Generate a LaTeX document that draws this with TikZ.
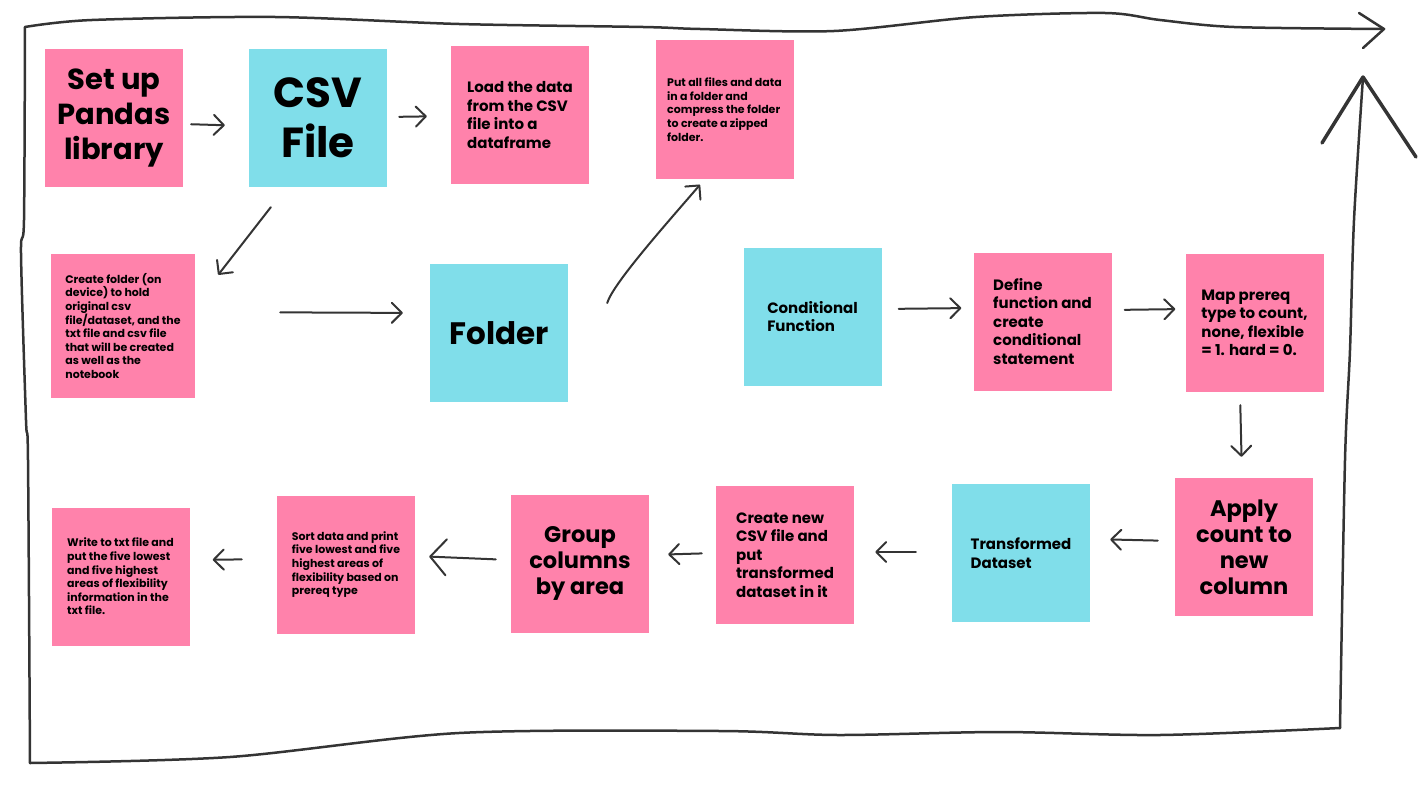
\documentclass[tikz,border=0pt]{standalone}
\usepackage{fontspec}
\setmainfont{Poppins}
\usetikzlibrary{arrows.meta}
\definecolor{notepink}{RGB}{255,130,171}
\definecolor{notecyan}{RGB}{128,222,234}
\definecolor{pencil}{RGB}{52,52,52}
\pgfkeys{tikz/note/.style={rectangle, inner sep=0pt,
                           minimum width=138pt, minimum height=138pt}}
\pgfkeys{tikz/pinknote/.style={note, fill=notepink}}
\pgfkeys{tikz/cyannote/.style={note, fill=notecyan}}
\pgfkeys{tikz/titletext/.style={align=center, font=\bfseries\fontsize{42}{50}\selectfont}}
\pgfkeys{tikz/foldertext/.style={align=center, font=\bfseries\fontsize{31}{36}\selectfont}}
\pgfkeys{tikz/bigtext/.style={align=center, font=\bfseries\fontsize{29}{35}\selectfont}}
\pgfkeys{tikz/midtext/.style={align=center, font=\bfseries\fontsize{22.5}{26}\selectfont}}
\pgfkeys{tikz/plaintext/.style={align=left, font=\bfseries\fontsize{15}{18.5}\selectfont}}
\pgfkeys{tikz/smalltext/.style={align=left, font=\bfseries\fontsize{11}{13.6}\selectfont}}
\pgfkeys{tikz/pen/.style={draw=pencil, line width=2pt, line cap=round, line join=round}}
\pgfkeys{tikz/frame/.style={draw=pencil, line width=2.5pt, line cap=round, line join=round}}
\pgfkeys{tikz/flow/.style={pen, -{Straight Barb[length=10pt,width=20pt,round]}}}
\pgfkeys{tikz/bigflow/.style={pen, -{Straight Barb[length=16pt,width=36pt,round]}}}

\begin{document}
\begin{tikzpicture}[x=1pt,y=-1pt]
            \useasboundingbox (0,0) rectangle (1422,800);

            \draw[frame] plot[smooth, tension=0.5] coordinates {(25,27) (92,20) (275,17) (459,24) (643,27) (700,29) (834,31) (976,17) (1105,13) (1160,20) (1234,27) (1384,29)};
            \draw[frame] (1359,13) -- (1384,29) -- (1363,48);
            \draw[frame] plot[smooth, tension=0.5] coordinates {(25,27) (24,220) (21,253) (26,420) (28,460) (30,763)};
            \draw[frame] plot[smooth, tension=0.5] coordinates {(30,763) (230,757) (459,733) (720,731) (838,735) (1000,732) (1160,735) (1340,728)};
            \draw[frame] plot[smooth, tension=0.5] coordinates {(1340,728) (1345,460) (1350,350) (1354,220) (1363,77)};
            \draw[frame, line width=3.5pt] (1322,143) -- (1363,77) -- (1416,157);

            \node[pinknote, bigtext] (setup) at (114,118) {Set up\\Pandas\\library};
            \node[cyannote, titletext] (csv) at (318,118) {CSV\\File};
            \node[pinknote, plaintext] (load) at (520,115) {Load the data\\from the CSV\\file into a\\dataframe};
            \node[pinknote, smalltext] (zip) at (724.5,109.5) {Put all files and data\\in a folder and\\compress the folder\\to create a zipped\\folder.};

            \node[pinknote, smalltext, minimum width=144pt, minimum height=144pt] (mkdir) at (123,326) {Create folder (on\\device) to hold\\original csv\\file/dataset, and the\\txt file and csv file\\that will be created\\as well as the\\notebook};
            \node[cyannote, foldertext] (folder) at (499,333) {Folder};

            \node[cyannote, plaintext] (cond) at (812.5,316.5) {Conditional\\Function};
            \node[pinknote, plaintext] (define) at (1042.5,321.5) {Define\\function and\\create\\conditional\\statement};
            \node[pinknote, plaintext] (map) at (1254.5,323) {Map prereq\\type to count,\\none, flexible\\= 1. hard = 0.};

            \node[pinknote, midtext] (apply) at (1244,547) {Apply\\count to\\new\\column};
            \node[cyannote, plaintext] (trans) at (1021,553) {Transformed\\Dataset};
            \node[pinknote, plaintext] (newcsv) at (785,555) {Create new\\CSV file and\\put\\transformed\\dataset in it};
            \node[pinknote, midtext] (group) at (580,563.5) {Group\\columns\\by area};
            \node[pinknote, smalltext] (sort) at (346,564.5) {Sort data and print\\five lowest and five\\highest areas of\\flexibility based on\\prereq type};
            \node[pinknote, smalltext] (write) at (120.5,576.5) {Write to txt file and\\put the five lowest\\and five highest\\areas of flexibility\\information in the\\txt file.};

            \draw[flow, shorten <=8pt, shorten >=24pt] ([yshift=-6pt]setup.east) -- ([yshift=-8pt]csv.west);
            \draw[flow, shorten <=12pt, shorten >=24pt] ([yshift=1pt]csv.east) -- ([yshift=-1pt]load.west);
            \draw[flow] ([xshift=22pt,yshift=-20pt]csv.south west) -- ([xshift=23pt,yshift=-21pt]mkdir.north east);
            \draw[flow, shorten <=85pt, shorten >=27pt] ([yshift=14pt]mkdir.east) -- ([yshift=20pt]folder.west);
            \draw[flow] ([xshift=39pt,yshift=30pt]folder.east) .. controls +(6,-20) and +(-30,35) .. ([xshift=-24.5pt,yshift=-6pt]zip.south);

            \draw[flow, shorten <=17pt, shorten >=12pt] ([yshift=7.5pt]cond.east) -- ([yshift=13.5pt]define.west);
            \draw[flow, shorten <=13pt, shorten >=10pt] ([yshift=11.5pt]define.east) -- ([yshift=14pt]map.west);
            \draw[flow, shorten <=13pt, shorten >=21pt] ([xshift=-14.5pt]map.south) -- ([xshift=-2pt]apply.north);

            \draw[flow, shorten <=17pt, shorten >=20pt] ([yshift=6pt]apply.west) -- ([yshift=14pt]trans.east);
            \draw[flow, shorten <=36pt, shorten >=21pt] ([yshift=1pt]trans.west) -- ([yshift=3pt]newcsv.east);
            \draw[flow, shorten <=14pt, shorten >=19pt] ([yshift=2pt]newcsv.west) -- ([yshift=8.5pt]group.east);
            \draw[bigflow, shorten <=15pt, shorten >=14pt] ([yshift=3.5pt]group.west) -- ([yshift=8.5pt]sort.east);
            \draw[flow, shorten <=35pt, shorten >=23pt] ([yshift=5.5pt]sort.west) -- ([yshift=16.5pt]write.east);
\end{tikzpicture}
\end{document}
